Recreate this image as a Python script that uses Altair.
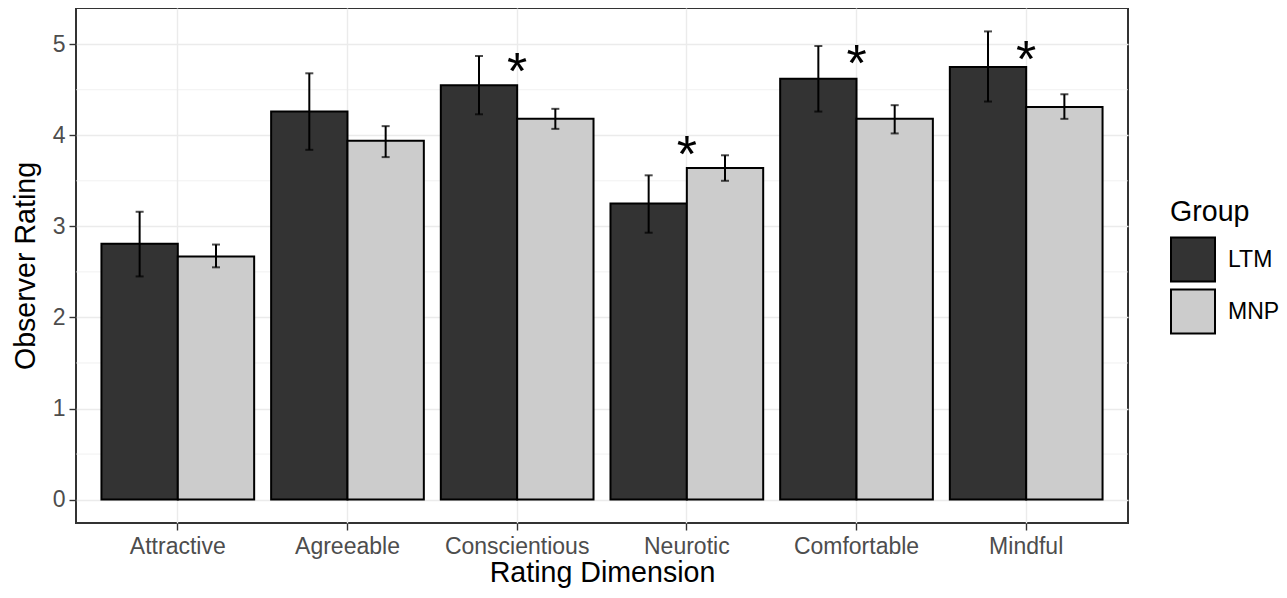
import altair as alt
import pandas as pd

categories = ["Attractive", "Agreeable", "Conscientious", "Neurotic", "Comfortable", "Mindful"]
groups = ["LTM", "MNP"]
group_colors = ["#333333", "#CCCCCC"]

ltm_mean = [2.81, 4.26, 4.55, 3.25, 4.62, 4.75]
ltm_lo = [2.45, 3.84, 4.23, 2.93, 4.26, 4.37]
ltm_hi = [3.16, 4.68, 4.87, 3.56, 4.98, 5.14]
mnp_mean = [2.67, 3.94, 4.18, 3.64, 4.18, 4.31]
mnp_lo = [2.55, 3.76, 4.07, 3.50, 4.02, 4.18]
mnp_hi = [2.80, 4.10, 4.29, 3.78, 4.33, 4.45]

star_categories = ["Conscientious", "Neurotic", "Comfortable", "Mindful"]
star_y = [4.51, 3.60, 4.60, 4.64]

major_ticks = [0, 1, 2, 3, 4, 5]
minor_ticks = [0.5, 1.5, 2.5, 3.5, 4.5]

rows = []
for i, c in enumerate(categories):
    rows.append(dict(Dimension=c, Group="LTM", mean=ltm_mean[i], lo=ltm_lo[i], hi=ltm_hi[i]))
    rows.append(dict(Dimension=c, Group="MNP", mean=mnp_mean[i], lo=mnp_lo[i], hi=mnp_hi[i]))
df = pd.DataFrame(rows)
star_df = pd.DataFrame({"Dimension": star_categories, "y": star_y})
minor_df = pd.DataFrame({"v": minor_ticks})

FONT = "Liberation Sans"

x_axis = alt.Axis(title="Rating Dimension", labelAngle=0, labelPadding=5, titlePadding=0, grid=True)
x_scale = alt.Scale(domain=categories, paddingInner=0.1, paddingOuter=0.15)
y_axis = alt.Axis(title="Observer Rating", values=major_ticks, labelPadding=4, titlePadding=12, grid=True)
y_scale = alt.Scale(domain=[-0.257, 5.397], nice=False, zero=False)
xoff = alt.XOffset("Group:N", sort=groups, scale=alt.Scale(domain=groups, paddingInner=0, paddingOuter=0))

X = alt.X("Dimension:N", sort=categories, scale=x_scale, axis=x_axis)

minor = alt.Chart(minor_df).mark_rule(color="#EBEBEB", strokeWidth=0.7).encode(
    y=alt.Y("v:Q", scale=y_scale, axis=y_axis)
)

bars = alt.Chart(df).mark_bar(stroke="black", strokeWidth=2).encode(
    x=X,
    xOffset=xoff,
    y=alt.Y("mean:Q", scale=y_scale, axis=y_axis),
    color=alt.Color(
        "Group:N",
        sort=groups,
        scale=alt.Scale(domain=groups, range=group_colors),
        legend=alt.Legend(
            title="Group",
            orient="none",
            legendX=1094,
            legendY=190,
            symbolType="square",
            symbolSize=1936,
            symbolStrokeColor="black",
            symbolStrokeWidth=2,
            symbolOpacity=1,
            labelFontSize=23,
            labelColor="black",
            labelFont=FONT,
            titleFont=FONT,
            titleFontSize=28.6,
            titleFontWeight="normal",
            titleColor="black",
            labelOffset=12,
            rowPadding=0,
            titlePadding=10,
        ),
    ),
)

err = alt.Chart(df).mark_rule(color="black", strokeWidth=2).encode(
    x=X,
    xOffset=xoff,
    y=alt.Y("lo:Q", scale=y_scale, axis=y_axis),
    y2="hi:Q",
)

caps = alt.Chart(df).transform_fold(["lo", "hi"], as_=["end", "val"]).mark_tick(
    color="black", thickness=2, size=8, orient="horizontal"
).encode(
    x=X,
    xOffset=xoff,
    y=alt.Y("val:Q", scale=y_scale, axis=y_axis),
)

stars = alt.Chart(star_df).mark_text(text="*", fontSize=52, font=FONT, baseline="alphabetic", color="black").encode(
    x=X,
    y=alt.Y("y:Q", scale=y_scale, axis=y_axis),
)

chart = alt.layer(minor, bars, err, caps, stars).properties(
    width=1052,
    height=515,
    padding={"left": 68, "top": 0, "right": 151, "bottom": 67},
    autosize=alt.AutoSizeParams(type="none"),
).configure_view(
    stroke="#333333", strokeWidth=2
).configure_axis(
    labelFont=FONT,
    titleFont=FONT,
    labelFontSize=23,
    titleFontSize=28.6,
    titleFontWeight="normal",
    labelColor="#4D4D4D",
    titleColor="black",
    gridColor="#EBEBEB",
    gridWidth=1.4,
    tickColor="#333333",
    tickWidth=1.4,
    tickSize=7,
    domain=False,
)

chart.save("out.html", embed_options={"renderer": "svg", "actions": False})
